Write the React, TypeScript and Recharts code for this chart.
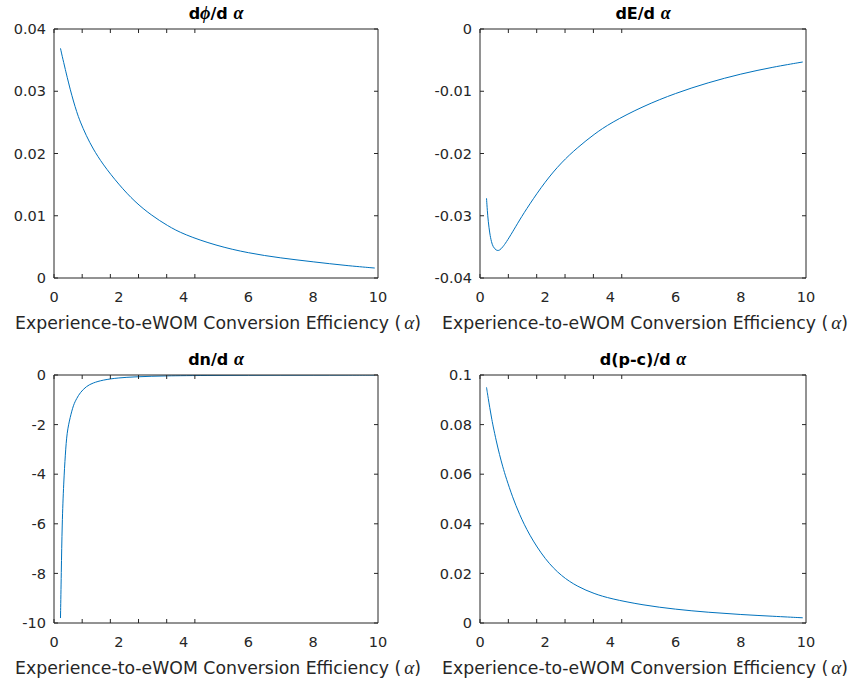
import React from "react";
import { LineChart, Line, XAxis, YAxis } from "recharts";

// alpha grid shared by the four panels
const ALPHA = [
  0.2, 0.225, 0.25, 0.3, 0.35, 0.4, 0.5, 0.6, 0.7, 0.8, 1, 1.2, 1.5, 2, 2.5, 3,
  3.5, 4, 5, 6, 7, 8, 9, 9.9,
];

const D_PHI = [
  0.0369, 0.0363, 0.0357, 0.0346, 0.0335, 0.0324, 0.0303, 0.0284, 0.0267,
  0.0252, 0.0228, 0.0208, 0.0183, 0.015, 0.0122, 0.0101, 0.0084, 0.007, 0.0052,
  0.004, 0.0032, 0.0026, 0.002, 0.0016,
];

const D_E = [
  -0.0272, -0.0292, -0.0308, -0.0329, -0.0342, -0.035, -0.0356, -0.0356,
  -0.035, -0.0343, -0.0326, -0.0308, -0.0283, -0.0245, -0.0214, -0.019,
  -0.0169, -0.0151, -0.0124, -0.0103, -0.0086, -0.0072, -0.0061, -0.0053,
];

const D_N = [
  -9.8, -8.0, -6.0, -4.3, -3.2, -2.3, -1.7, -1.2, -0.95, -0.72, -0.45, -0.32,
  -0.2, -0.11, -0.075, -0.05, -0.035, -0.026, -0.015, -0.01, -0.007, -0.005,
  -0.004, -0.003,
];

const D_PC = [
  0.095, 0.0929, 0.0908, 0.0868, 0.083, 0.0795, 0.0733, 0.0678, 0.0629,
  0.0585, 0.0507, 0.0441, 0.0357, 0.0255, 0.0188, 0.0146, 0.0118, 0.0098,
  0.0072, 0.0055, 0.0043, 0.0034, 0.0027, 0.0021,
];

const X_TICKS = [0, 2, 4, 6, 8, 10];
const PHI_TICKS = [0, 0.01, 0.02, 0.03, 0.04];
const E_TICKS = [-0.04, -0.03, -0.02, -0.01, 0];
const N_TICKS = [-10, -8, -6, -4, -2, 0];
const PC_TICKS = [0, 0.02, 0.04, 0.06, 0.08, 0.1];

const AX = "#262626";
const LINE = "#0072BD";
const SANS = "'DejaVu Sans', sans-serif";
const SERIF = "'Liberation Serif', 'DejaVu Serif', serif";

const YW = 60;
const TOP = 14;
const RIGHT = 20;
const XH = 30;
const TICK_IN = 4;

function fmt(v: number) {
  return String(Number(v.toFixed(4)));
}

const noLabel = () => <g />;

function Panel({ title, values, yTicks, plotLeft, plotTop, plotW, plotH }: any) {
  const data = ALPHA.map((a, i) => ({ a, v: values[i] }));
  const yDomain = [yTicks[0], yTicks[yTicks.length - 1]];
  return (
    <>
      <div
        style={{
          position: "absolute",
          left: plotLeft,
          width: plotW,
          top: plotTop - 26,
          lineHeight: "20px",
          textAlign: "center",
          fontFamily: SANS,
          fontWeight: "bold",
          fontSize: 16,
          color: "#000",
          whiteSpace: "nowrap",
        }}
      >
        {title}
      </div>
      <div style={{ position: "absolute", left: plotLeft - YW, top: plotTop - TOP }}>
        <LineChart
          width={YW + plotW + RIGHT}
          height={TOP + plotH + XH}
          data={data}
          margin={{ top: TOP, right: RIGHT, left: 0, bottom: 0 }}
        >
          <XAxis
            dataKey="a"
            type="number"
            domain={[0, 10]}
            ticks={X_TICKS}
            interval={0}
            allowDataOverflow
            height={XH}
            tickLine={false}
            tickSize={0}
            tickMargin={14}
            axisLine={{ stroke: AX }}
            tick={{ fill: AX, fontSize: 14.5, fontFamily: SANS }}
          />
          <XAxis
            xAxisId="bm"
            type="number"
            domain={[0, 10]}
            ticks={X_TICKS}
            interval={0}
            allowDataOverflow
            mirror
            tick={noLabel}
            tickSize={TICK_IN}
            tickLine={{ stroke: AX }}
            axisLine={false}
          />
          <XAxis
            xAxisId="tm"
            orientation="top"
            type="number"
            domain={[0, 10]}
            ticks={X_TICKS}
            interval={0}
            allowDataOverflow
            mirror
            tick={noLabel}
            tickSize={TICK_IN}
            tickLine={{ stroke: AX }}
            axisLine={{ stroke: AX }}
          />
          <YAxis
            type="number"
            domain={yDomain}
            ticks={yTicks}
            interval={0}
            allowDataOverflow
            width={YW}
            tickLine={false}
            tickSize={0}
            tickMargin={8}
            tickFormatter={fmt}
            axisLine={{ stroke: AX }}
            tick={{ fill: AX, fontSize: 14.5, fontFamily: SANS }}
          />
          <YAxis
            yAxisId="lm"
            type="number"
            domain={yDomain}
            ticks={yTicks}
            interval={0}
            allowDataOverflow
            mirror
            tick={noLabel}
            tickSize={TICK_IN}
            tickLine={{ stroke: AX }}
            axisLine={false}
          />
          <YAxis
            yAxisId="rm"
            orientation="right"
            type="number"
            domain={yDomain}
            ticks={yTicks}
            interval={0}
            allowDataOverflow
            mirror
            tick={noLabel}
            tickSize={TICK_IN}
            tickLine={{ stroke: AX }}
            axisLine={{ stroke: AX }}
          />
          <Line
            type="basis"
            dataKey="v"
            stroke={LINE}
            strokeWidth={1}
            dot={false}
            isAnimationActive={false}
          />
        </LineChart>
      </div>
      <div
        style={{
          position: "absolute",
          left: plotLeft - 68,
          width: plotW + 140,
          top: plotTop + plotH + 35,
          lineHeight: "20px",
          textAlign: "center",
          fontFamily: SANS,
          fontSize: 17.3,
          color: AX,
          whiteSpace: "nowrap",
        }}
      >
        Experience-to-eWOM Conversion Efficiency (
        <span style={{ fontFamily: SERIF, fontStyle: "italic", fontSize: 19, marginLeft: 3 }}>α</span>)
      </div>
    </>
  );
}

const bold = (s: string) => (
  <span style={{ fontFamily: SERIF, fontStyle: "italic", fontWeight: "bold", fontSize: 18 }}>{s}</span>
);

export default function App() {
  return (
    <div
      style={{
        position: "absolute",
        left: 0,
        top: 0,
        width: 850,
        height: 683,
        background: "#fff",
        overflow: "hidden",
      }}
    >
      <Panel
        title={<>d{bold("ϕ")}/d {bold("α")}</>}
        values={D_PHI}
        yTicks={PHI_TICKS}
        plotLeft={54}
        plotTop={29}
        plotW={324}
        plotH={249}
      />
      <Panel
        title={<>dE/d {bold("α")}</>}
        values={D_E}
        yTicks={E_TICKS}
        plotLeft={480}
        plotTop={29}
        plotW={326}
        plotH={249}
      />
      <Panel
        title={<>dn/d {bold("α")}</>}
        values={D_N}
        yTicks={N_TICKS}
        plotLeft={54}
        plotTop={375}
        plotW={324}
        plotH={248}
      />
      <Panel
        title={<>d(p-c)/d {bold("α")}</>}
        values={D_PC}
        yTicks={PC_TICKS}
        plotLeft={480}
        plotTop={375}
        plotW={326}
        plotH={248}
      />
    </div>
  );
}
